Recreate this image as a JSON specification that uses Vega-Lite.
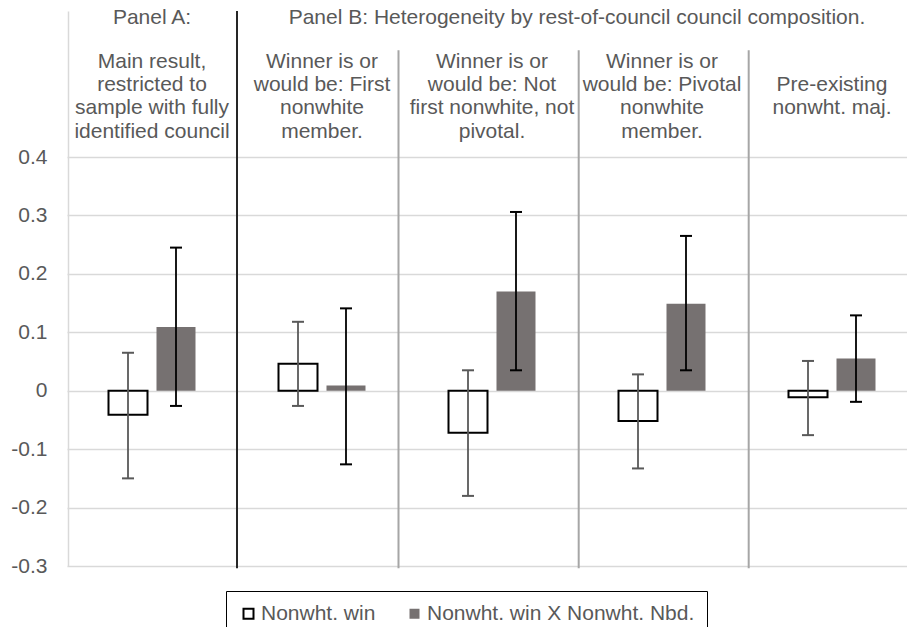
{
  "$schema": "https://vega.github.io/schema/vega-lite/v6.json",
  "width": 839,
  "height": 555,
  "autosize": {"type": "none"},
  "padding": {"left": 68, "top": 11, "right": 0, "bottom": 61},
  "background": "white",
  "config": {"view": {"stroke": null}, "font": "Liberation Sans"},
  "datasets": {
    "bars": [
      {"cat": "A", "series": "Nonwht. win", "value": -0.041, "lo": -0.150, "hi": 0.065},
      {"cat": "A", "series": "Nonwht. win X Nonwht. Nbd.", "value": 0.109, "lo": -0.026, "hi": 0.245},
      {"cat": "B1", "series": "Nonwht. win", "value": 0.046, "lo": -0.026, "hi": 0.118},
      {"cat": "B1", "series": "Nonwht. win X Nonwht. Nbd.", "value": 0.009, "lo": -0.126, "hi": 0.141},
      {"cat": "B2", "series": "Nonwht. win", "value": -0.072, "lo": -0.180, "hi": 0.035},
      {"cat": "B2", "series": "Nonwht. win X Nonwht. Nbd.", "value": 0.170, "lo": 0.035, "hi": 0.306},
      {"cat": "B3", "series": "Nonwht. win", "value": -0.052, "lo": -0.133, "hi": 0.028},
      {"cat": "B3", "series": "Nonwht. win X Nonwht. Nbd.", "value": 0.149, "lo": 0.035, "hi": 0.265},
      {"cat": "B4", "series": "Nonwht. win", "value": -0.011, "lo": -0.076, "hi": 0.051},
      {"cat": "B4", "series": "Nonwht. win X Nonwht. Nbd.", "value": 0.055, "lo": -0.019, "hi": 0.129}
    ],
    "labels": [
      {"cat": "A", "label": "Main result,|restricted to|sample with fully|identified council"},
      {"cat": "B1", "label": "Winner is or|would be: First|nonwhite|member."},
      {"cat": "B2", "label": "Winner is or|would be: Not|first nonwhite, not|pivotal."},
      {"cat": "B3", "label": "Winner is or|would be: Pivotal|nonwhite|member."},
      {"cat": "B4", "label": " | |Pre-existing|nonwht. maj."}
    ],
    "panels": [
      {"cat": "A", "text": "Panel A:"},
      {"cat": "B2", "text": "Panel B: Heterogeneity by rest-of-council council composition."}
    ],
    "dividers": [
      {"cat": "B1", "kind": "black", "bottom": -0.304, "top": 0.65},
      {"cat": "B1", "kind": "grayA", "bottom": -0.304, "top": 0.583},
      {"cat": "B3", "kind": "grayB", "bottom": -0.304, "top": 0.583},
      {"cat": "B4", "kind": "grayB", "bottom": -0.304, "top": 0.583}
    ]
  },
  "layer": [
    {
      "data": {"name": "dividers"},
      "transform": [{"filter": "datum.kind == 'black'"}],
      "mark": {"type": "rule", "color": "#262626", "strokeWidth": 2},
      "encoding": {
        "x": {"field": "cat", "type": "nominal", "bandPosition": 0, "axis": null,
              "scale": {"domain": ["A", "B1", "B2", "B3", "B4"], "range": [-1, 849], "paddingInner": 0, "paddingOuter": 0}},
        "y": {"field": "bottom", "type": "quantitative", "title": null,
              "scale": {"domain": [-0.3, 0.65], "nice": false, "zero": false},
              "axis": {"values": [-0.3, -0.2, -0.1, 0, 0.1, 0.2, 0.3, 0.4],
                       "labelExpr": "datum.value == 0 ? '0' : replace(format(datum.value, '.1f'), '\u2212', '-')",
                       "grid": true, "gridColor": "#d9d9d9", "gridWidth": 1.5,
                       "domain": true, "domainColor": "#d9d9d9", "domainWidth": 1.5,
                       "ticks": false, "labelPadding": 21, "labelFontSize": 21,
                       "labelColor": "#595959", "labelFont": "Liberation Sans", "title": null}},
        "y2": {"field": "top"}
      }
    },
    {
      "data": {"name": "dividers"},
      "transform": [{"filter": "datum.kind == 'grayA'"}],
      "mark": {"type": "rule", "color": "#a6a6a6", "strokeWidth": 2},
      "encoding": {
        "x": {"field": "cat", "type": "nominal", "bandPosition": 0.95, "axis": null,
              "scale": {"domain": ["A", "B1", "B2", "B3", "B4"], "range": [-1, 849], "paddingInner": 0, "paddingOuter": 0}},
        "y": {"field": "bottom", "type": "quantitative", "title": null},
        "y2": {"field": "top"}
      }
    },
    {
      "data": {"name": "dividers"},
      "transform": [{"filter": "datum.kind == 'grayB'"}],
      "mark": {"type": "rule", "color": "#a6a6a6", "strokeWidth": 2},
      "encoding": {
        "x": {"field": "cat", "type": "nominal", "bandPosition": 0.01, "axis": null,
              "scale": {"domain": ["A", "B1", "B2", "B3", "B4"], "range": [-1, 849], "paddingInner": 0, "paddingOuter": 0}},
        "y": {"field": "bottom", "type": "quantitative", "title": null},
        "y2": {"field": "top"}
      }
    },
    {
      "data": {"name": "bars"},
      "mark": {"type": "bar", "strokeWidth": 2},
      "encoding": {
        "x": {"field": "cat", "type": "nominal", "axis": null,
              "scale": {"domain": ["A", "B1", "B2", "B3", "B4"], "range": [-1, 849], "paddingInner": 0, "paddingOuter": 0}},
        "xOffset": {"field": "series", "type": "nominal",
                    "scale": {"domain": ["Nonwht. win", "Nonwht. win X Nonwht. Nbd."], "paddingInner": 0.1875, "paddingOuter": 0.8646}},
        "y": {"field": "value", "type": "quantitative", "title": null},
        "fill": {"field": "series", "type": "nominal",
                 "scale": {"domain": ["Nonwht. win", "Nonwht. win X Nonwht. Nbd."], "range": ["#ffffff", "#767171"]},
                 "legend": {"title": null, "orient": "none", "legendX": 158, "legendY": 580, "direction": "horizontal",
                            "symbolType": "square", "symbolSize": 100, "symbolStrokeWidth": 2,
                            "labelFontSize": 21, "labelColor": "#595959", "labelFont": "Liberation Sans", "labelLimit": 500,
                            "strokeColor": "#000000", "fillColor": "#ffffff", "padding": 12, "columnPadding": 28, "labelOffset": 2}},
        "stroke": {"field": "series", "type": "nominal",
                   "scale": {"domain": ["Nonwht. win", "Nonwht. win X Nonwht. Nbd."], "range": ["#000000", "transparent"]},
                   "legend": {"title": null, "orient": "none", "legendX": 158, "legendY": 580, "direction": "horizontal",
                            "symbolType": "square", "symbolSize": 100, "symbolStrokeWidth": 2,
                            "labelFontSize": 21, "labelColor": "#595959", "labelFont": "Liberation Sans", "labelLimit": 500,
                            "strokeColor": "#000000", "fillColor": "#ffffff", "padding": 12, "columnPadding": 28, "labelOffset": 2}}
      }
    },
    {
      "data": {"name": "bars"},
      "mark": {"type": "rule", "strokeWidth": 1.8},
      "encoding": {
        "x": {"field": "cat", "type": "nominal", "axis": null,
              "scale": {"domain": ["A", "B1", "B2", "B3", "B4"], "range": [-1, 849], "paddingInner": 0, "paddingOuter": 0}},
        "xOffset": {"field": "series", "type": "nominal"},
        "y": {"field": "lo", "type": "quantitative", "title": null},
        "y2": {"field": "hi"},
        "color": {"field": "series", "type": "nominal", "legend": null,
                  "scale": {"domain": ["Nonwht. win", "Nonwht. win X Nonwht. Nbd."], "range": ["#595959", "#000000"]}}
      }
    },
    {
      "data": {"name": "bars"},
      "mark": {"type": "tick", "size": 12, "thickness": 2, "opacity": 1},
      "encoding": {
        "x": {"field": "cat", "type": "nominal", "axis": null,
              "scale": {"domain": ["A", "B1", "B2", "B3", "B4"], "range": [-1, 849], "paddingInner": 0, "paddingOuter": 0}},
        "xOffset": {"field": "series", "type": "nominal"},
        "y": {"field": "lo", "type": "quantitative", "title": null},
        "color": {"field": "series", "type": "nominal", "legend": null}
      }
    },
    {
      "data": {"name": "bars"},
      "mark": {"type": "tick", "size": 12, "thickness": 2, "opacity": 1},
      "encoding": {
        "x": {"field": "cat", "type": "nominal", "axis": null,
              "scale": {"domain": ["A", "B1", "B2", "B3", "B4"], "range": [-1, 849], "paddingInner": 0, "paddingOuter": 0}},
        "xOffset": {"field": "series", "type": "nominal"},
        "y": {"field": "hi", "type": "quantitative", "title": null},
        "color": {"field": "series", "type": "nominal", "legend": null}
      }
    },
    {
      "data": {"name": "labels"},
      "mark": {"type": "text", "lineBreak": "|", "baseline": "bottom", "align": "center", "fontSize": 21, "lineHeight": 23.3, "color": "#595959", "font": "Liberation Sans"},
      "encoding": {
        "x": {"field": "cat", "type": "nominal", "axis": null,
              "scale": {"domain": ["A", "B1", "B2", "B3", "B4"], "range": [-1, 849], "paddingInner": 0, "paddingOuter": 0}},
        "y": {"datum": 0.546, "type": "quantitative"},
        "text": {"field": "label"}
      }
    },
    {
      "data": {"name": "panels"},
      "transform": [{"filter": "datum.cat == 'A'"}],
      "mark": {"type": "text", "baseline": "middle", "align": "center", "fontSize": 21, "color": "#595959", "font": "Liberation Sans"},
      "encoding": {
        "x": {"field": "cat", "type": "nominal", "axis": null,
              "scale": {"domain": ["A", "B1", "B2", "B3", "B4"], "range": [-1, 849], "paddingInner": 0, "paddingOuter": 0}},
        "y": {"datum": 0.638, "type": "quantitative"},
        "text": {"field": "text"}
      }
    },
    {
      "data": {"name": "panels"},
      "transform": [{"filter": "datum.cat == 'B2'"}],
      "mark": {"type": "text", "baseline": "middle", "align": "center", "fontSize": 21, "color": "#595959", "font": "Liberation Sans"},
      "encoding": {
        "x": {"field": "cat", "type": "nominal", "bandPosition": 1, "axis": null,
              "scale": {"domain": ["A", "B1", "B2", "B3", "B4"], "range": [-1, 849], "paddingInner": 0, "paddingOuter": 0}},
        "y": {"datum": 0.638, "type": "quantitative"},
        "text": {"field": "text"}
      }
    }
  ]
}
